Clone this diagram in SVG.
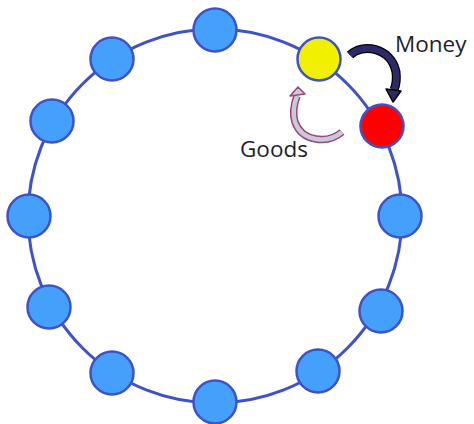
<svg xmlns="http://www.w3.org/2000/svg" width="474" height="424" viewBox="0 0 474 424">
<style>
.ring{fill:none;stroke:#3F52C6;stroke-width:3}
.n{stroke:#3F52C6;stroke-width:2.5}
.b{fill:#44A0FA}
.lbl{font-family:"Open Sans","Noto Sans",sans-serif;font-size:22.5px;fill:#1E1E2E}
</style>
<rect width="474" height="424" fill="#fff"/>
<g id="connectors">
<circle class="ring" cx="215" cy="216" r="187"/>
<g id="money-arrow">
<path d="M350 55 C362 43 391 47 396 72 C397 80 396 85 394 90" fill="none" stroke="#000" stroke-width="9" stroke-linecap="butt"/>
<path d="M350 55 C362 43 391 47 396 72 C397 80 396 85 394 90" fill="none" stroke="#2E2A68" stroke-width="6.5" stroke-linecap="butt"/>
<polygon points="386,89 401,91 393,102" fill="#2E2A68" stroke="#000" stroke-width="1.5" stroke-linejoin="round"/>
</g>
<g id="goods-arrow">
<path d="M342 132 C328 144 302 142 295 122 C292 112 294 104 297 96" fill="none" stroke="#A0466A" stroke-width="7.5"/>
<path d="M342 132 C328 144 302 142 295 122 C292 112 294 104 297 96" fill="none" stroke="#C8C8DE" stroke-width="4.5"/>
<polygon points="290,96 305,94 298,87" fill="#C8C8DE" stroke="#A0466A" stroke-width="1.5" stroke-linejoin="round"/>
</g>
</g>
<g id="n1"><circle class="n b" cx="215" cy="30" r="21.5"/></g>
<g id="n2"><circle class="n" cx="319" cy="59" r="21.5" fill="#F0F000"/></g>
<g id="n3"><circle class="n" cx="382" cy="126" r="21.5" fill="#FF0000"/></g>
<g id="n4"><circle class="n b" cx="400" cy="216" r="21.5"/></g>
<g id="n5"><circle class="n b" cx="381" cy="311" r="21.5"/></g>
<g id="n6"><circle class="n b" cx="318" cy="371" r="21.5"/></g>
<g id="n7"><circle class="n b" cx="215" cy="402" r="21.5"/></g>
<g id="n8"><circle class="n b" cx="112" cy="373" r="21.5"/></g>
<g id="n9"><circle class="n b" cx="49" cy="307" r="21.5"/></g>
<g id="n10"><circle class="n b" cx="29" cy="216" r="21.5"/></g>
<g id="n11"><circle class="n b" cx="52" cy="121" r="21.5"/></g>
<g id="n12"><circle class="n b" cx="112" cy="59" r="21.5"/></g>
<text class="lbl" x="395" y="52">Money</text>
<text class="lbl" x="240" y="157">Goods</text>
</svg>
